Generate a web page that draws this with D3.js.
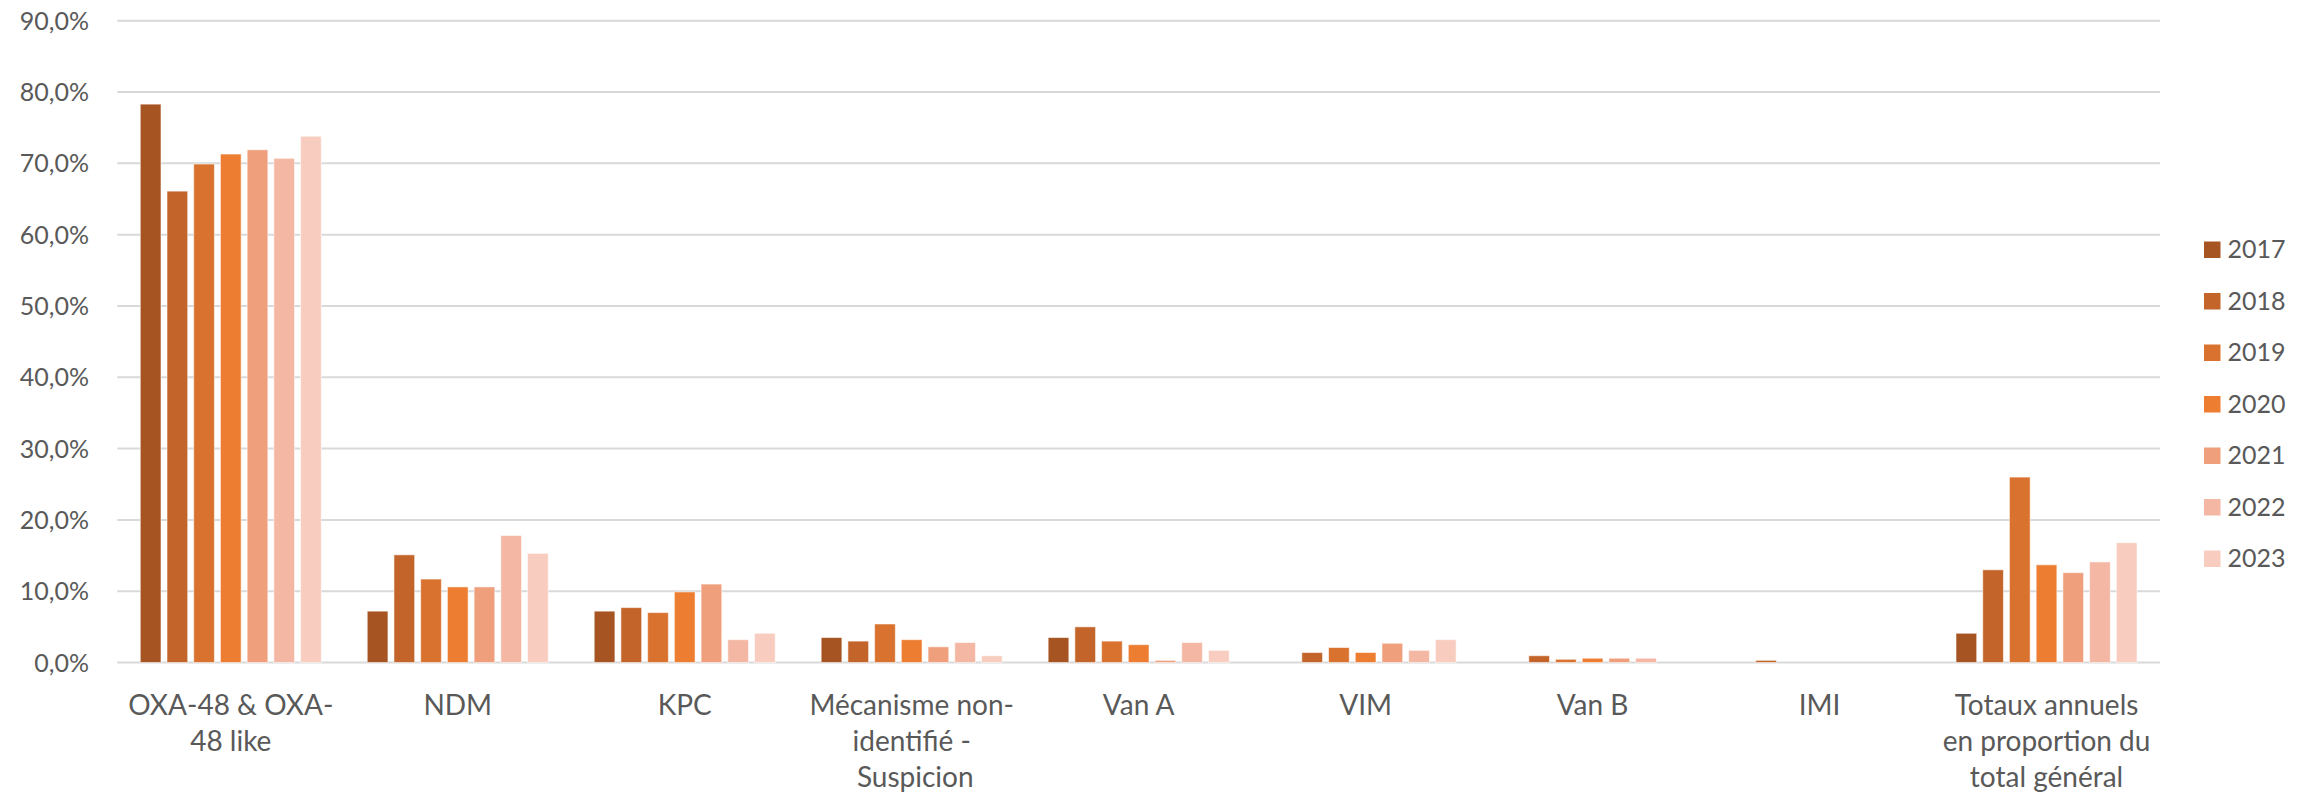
<!DOCTYPE html>
<html>
<head>
<meta charset="utf-8">
<script src="https://cdn.jsdelivr.net/npm/d3@7"></script>
<style>
  html, body { margin: 0; padding: 0; background: #fff; }
  svg { display: block; font-family: Lato, 'Open Sans', sans-serif; }
</style>
</head>
<body>
<svg id="chart"></svg>
<script>
const categories = [
  'OXA-48 & OXA-48 like',
  'NDM',
  'KPC',
  'Mécanisme non-identifié - Suspicion',
  'Van A',
  'VIM',
  'Van B',
  'IMI',
  'Totaux annuels en proportion du total général'
];
const years = ['2017', '2018', '2019', '2020', '2021', '2022', '2023'];
const colors = ['#A65421', '#C3652A', '#D9722F', '#ED7D31', '#F09F7C', '#F4B7A3', '#F8CDC0'];

// one array per year, values in % of category order above
const v2017 = [78.3, 7.2, 7.2, 3.5, 3.5, 0, 0, 0, 4.1];
const v2018 = [66.1, 15.1, 7.7, 3.0, 5.0, 1.4, 0.95, 0.3, 13.0];
const v2019 = [69.9, 11.7, 7.0, 5.4, 3.0, 2.1, 0.45, 0, 26.0];
const v2020 = [71.3, 10.6, 9.9, 3.2, 2.5, 1.4, 0.6, 0, 13.7];
const v2021 = [71.9, 10.6, 11.0, 2.2, 0.3, 2.7, 0.6, 0, 12.6];
const v2022 = [70.7, 17.8, 3.2, 2.8, 2.8, 1.7, 0.6, 0, 14.1];
const v2023 = [73.8, 15.3, 4.1, 0.95, 1.7, 3.2, 0, 0, 16.8];
const series = [v2017, v2018, v2019, v2020, v2021, v2022, v2023];

const yTicks = [0, 0.1, 0.2, 0.3, 0.4, 0.5, 0.6, 0.7, 0.8, 0.9];

const width = 2318;
const height = 797;
const textColor = '#595959';
const gridColor = '#D9D9D9';
const numSize = 25;
const labelSize = 28;

const svg = d3.select('#chart')
  .attr('width', width)
  .attr('height', height);

const fr = d3.formatLocale({ decimal: ',', thousands: ' ', grouping: [3], currency: ['', ' €'] });
const pct = fr.format('.1%');

const x0 = d3.scaleBand()
  .domain(categories)
  .range([117.3, 2160]);

const x1 = d3.scaleBand()
  .domain(years)
  .range([0, x0.bandwidth()])
  .paddingInner(0.225)
  .paddingOuter(0.86);

const y = d3.scaleLinear()
  .domain([0, 0.9])
  .range([662.5, 20.7]);

// gridlines
svg.append('g')
  .selectAll('line')
  .data(yTicks)
  .join('line')
  .attr('x1', x0.range()[0])
  .attr('x2', x0.range()[1])
  .attr('y1', d => y(d))
  .attr('y2', d => y(d))
  .attr('stroke', gridColor)
  .attr('stroke-width', 2);

// y tick labels
svg.append('g')
  .selectAll('text')
  .data(yTicks)
  .join('text')
  .attr('x', 89)
  .attr('y', d => y(d) + 9)
  .attr('text-anchor', 'end')
  .attr('font-size', numSize)
  .attr('fill', textColor)
  .text(d => pct(d));

// bars
const groups = svg.append('g')
  .selectAll('g')
  .data(categories)
  .join('g')
  .attr('transform', d => `translate(${x0(d)},0)`);

groups.selectAll('rect')
  .data((c, i) => years.map((yr, k) => ({ yr, k, v: series[k][i] / 100 })))
  .join('rect')
  .filter(d => d.v > 0)
  .attr('x', d => x1(d.yr))
  .attr('width', x1.bandwidth())
  .attr('y', d => y(d.v))
  .attr('height', d => y(0) - y(d.v))
  .attr('fill', d => colors[d.k])
  .attr('stroke', 'rgba(255,255,255,0.55)')
  .attr('stroke-width', 1);

// category labels, wrapped at spaces and after hyphens
function wrap (text, maxW) {
  const probe = svg.append('text').attr('font-size', labelSize);
  const measure = s => probe.text(s).node().getComputedTextLength();
  const lines = [];
  let cur = '';
  text.split(/(?<=-)|\s+/).forEach(tok => {
    if (!tok) return;
    const glue = cur === '' || cur.endsWith('-') ? '' : ' ';
    const test = cur + glue + tok;
    if (cur !== '' && measure(test) > maxW) {
      lines.push(cur);
      cur = tok;
    } else {
      cur = test;
    }
  });
  if (cur) lines.push(cur);
  probe.remove();
  return lines;
}

const labels = svg.append('g');
categories.forEach(c => {
  const t = labels.append('text')
    .attr('text-anchor', 'middle')
    .attr('font-size', labelSize)
    .attr('fill', textColor);
  wrap(c, x0.bandwidth() - 7).forEach((line, i) => {
    t.append('tspan')
      .attr('x', x0(c) + x0.bandwidth() / 2)
      .attr('y', 715 + i * 36)
      .text(line);
  });
});

// legend
const legend = svg.append('g')
  .attr('transform', 'translate(2204,241.5)');

const legendY = d3.scalePoint()
  .domain(years)
  .range([0, 6 * 51.5]);

legend.selectAll('rect')
  .data(years)
  .join('rect')
  .attr('x', 0)
  .attr('y', d => legendY(d))
  .attr('width', 16.5)
  .attr('height', 16.5)
  .attr('fill', (d, i) => colors[i]);

legend.selectAll('text')
  .data(years)
  .join('text')
  .attr('x', 23.5)
  .attr('y', d => legendY(d) + 16.5)
  .attr('font-size', numSize)
  .attr('fill', textColor)
  .text(d => d);
</script>
</body>
</html>
